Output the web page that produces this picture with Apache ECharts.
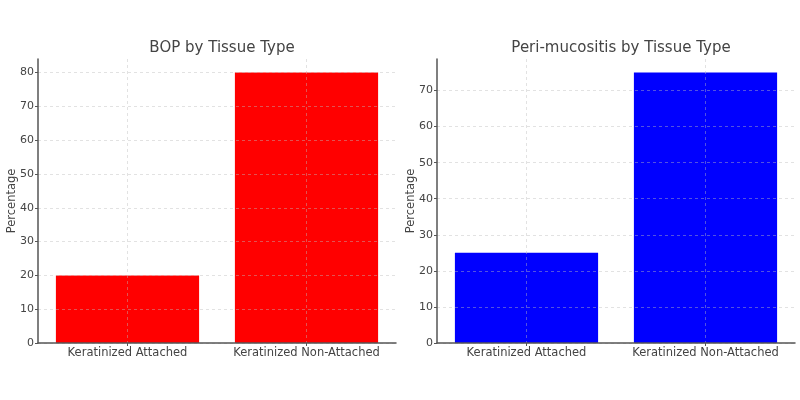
<!DOCTYPE html>
<html>
<head>
<meta charset="utf-8">
<script src="https://cdn.jsdelivr.net/npm/echarts@6/dist/echarts.min.js"></script>
<style>
  html, body { margin: 0; padding: 0; background: #fff; }
  #chart { width: 800px; height: 400px; }
</style>
</head>
<body>
<div id="chart"></div>
<script>
// data
const categories = ['Keratinized Attached', 'Keratinized Non-Attached']
const bopValues = [20, 80]
const periValues = [25, 75]
const titles = ['BOP by Tissue Type', 'Peri-mucositis by Tissue Type']

const font = 'DejaVu Sans'
const textColor = '#444'
const gridLine = { show: true, lineStyle: { color: 'rgba(190,190,190,0.55)', type: [3, 3], width: 0.8 } }

function xAxisFor (idx) {
  return {
    type: 'category',
    gridIndex: idx,
    data: categories,
    z: 5,
    axisLine: { lineStyle: { color: '#555', width: 1.5 } },
    axisTick: { show: true, alignWithLabel: true, interval: 0, length: 3, lineStyle: { color: '#555' } },
    axisLabel: { color: textColor, fontFamily: font, fontSize: 11.5, margin: 4, interval: 0 },
    splitLine: Object.assign({ alignWithLabel: true, interval: 0 }, gridLine)
  }
}

function yAxisFor (idx, max) {
  return {
    type: 'value',
    gridIndex: idx,
    min: 0,
    max: max,
    interval: 10,
    z: 5,
    name: 'Percentage',
    nameLocation: 'middle',
    nameGap: 20,
    nameMoveOverlap: false,
    nameTextStyle: { color: textColor, fontFamily: font, fontSize: 11.5 },
    axisLine: { show: true, lineStyle: { color: '#555', width: 1.5 } },
    axisTick: { show: true, length: 3, lineStyle: { color: '#555' } },
    axisLabel: { color: textColor, fontFamily: font, fontSize: 11, margin: 4, showMaxLabel: false },
    splitLine: Object.assign({ showMaxLine: false }, gridLine)
  }
}

const chart = echarts.init(document.getElementById('chart'))
const option = {
  backgroundColor: '#fff',
  animation: false,
  title: [
    { text: titles[0], left: 217, top: 36, textAlign: 'center',
      textStyle: { color: textColor, fontFamily: font, fontSize: 15, fontWeight: 'normal' } },
    { text: titles[1], left: 616, top: 36, textAlign: 'center',
      textStyle: { color: textColor, fontFamily: font, fontSize: 15, fontWeight: 'normal' } }
  ],
  grid: [
    { left: 38, right: 404, top: 59, bottom: 57 },
    { left: 437, right: 5, top: 59, bottom: 57 }
  ],
  xAxis: [xAxisFor(0), xAxisFor(1)],
  yAxis: [yAxisFor(0, 84), yAxisFor(1, 78.75)],
  series: [
    { type: 'bar', xAxisIndex: 0, yAxisIndex: 0, data: bopValues, barWidth: '80%',
      itemStyle: { color: '#ff0000' } },
    { type: 'bar', xAxisIndex: 1, yAxisIndex: 1, data: periValues, barWidth: '80%',
      itemStyle: { color: '#0000ff' } }
  ]
}
chart.setOption(option)
</script>
</body>
</html>
